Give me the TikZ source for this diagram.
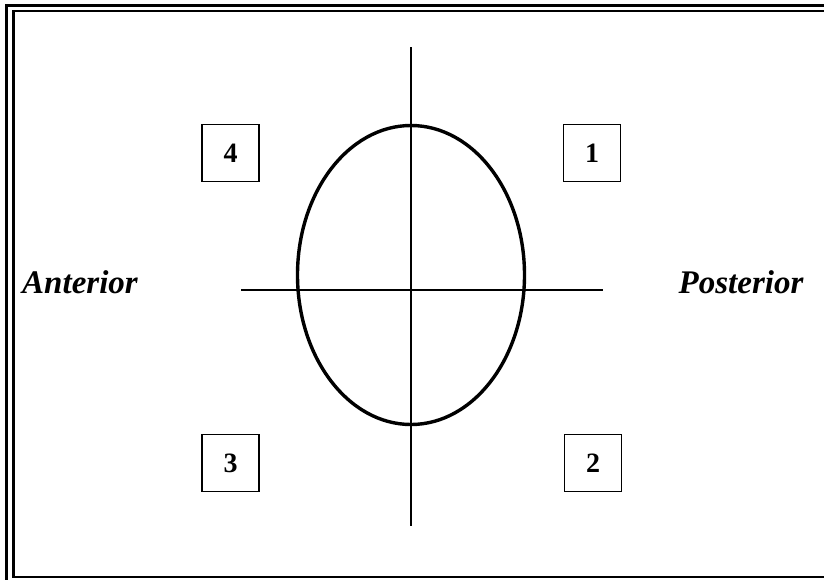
\documentclass[tikz,border=0pt]{standalone}
\usepackage{fontspec}
\setmainfont{Liberation Serif}
\usepackage{tikz}
\usetikzlibrary{positioning,shapes.geometric}
\tikzset{
  quadbox/.style={draw, line width=1.8pt, minimum size=57pt, inner sep=0pt, font=\fontsize{28}{28}\selectfont\bfseries},
  sidelabel/.style={font=\fontsize{33}{33}\selectfont\bfseries\itshape, inner sep=0pt},
  axis/.style={line width=2pt}
}
\begin{document}
\begin{tikzpicture}[x=1pt, y=-1pt]
\useasboundingbox (0,0) rectangle (824,579);
\clip (0,0) rectangle (824,579);
% frame
\draw[line width=2.2pt] (6.5,5.5) rectangle (900,650);
\draw[line width=2.4pt] (13.5,11) rectangle (900,577);
% eye outline and axes
\node[draw, ellipse, line width=3.4pt, minimum width=227pt, minimum height=299pt, inner sep=0pt] (eye) at (411,275) {};
\coordinate (up) at (411,47);
\coordinate (down) at (411,526);
\coordinate (left) at (241,290);
\coordinate (right) at (603,290);
\draw[axis] (up) -- (down);
\draw[axis] (left) -- (right);
% quadrants
\node[quadbox] (q4) at (230.5,153) {4};
\node[quadbox] (q1) at (592,153) {1};
\node[quadbox] (q3) at (230.5,463) {3};
\node[quadbox] (q2) at (593,463) {2};
% sides
\node[sidelabel] (ant) at (80,282) {Anterior};
\node[sidelabel] (post) at (741,282) {Posterior};
\end{tikzpicture}
\end{document}
